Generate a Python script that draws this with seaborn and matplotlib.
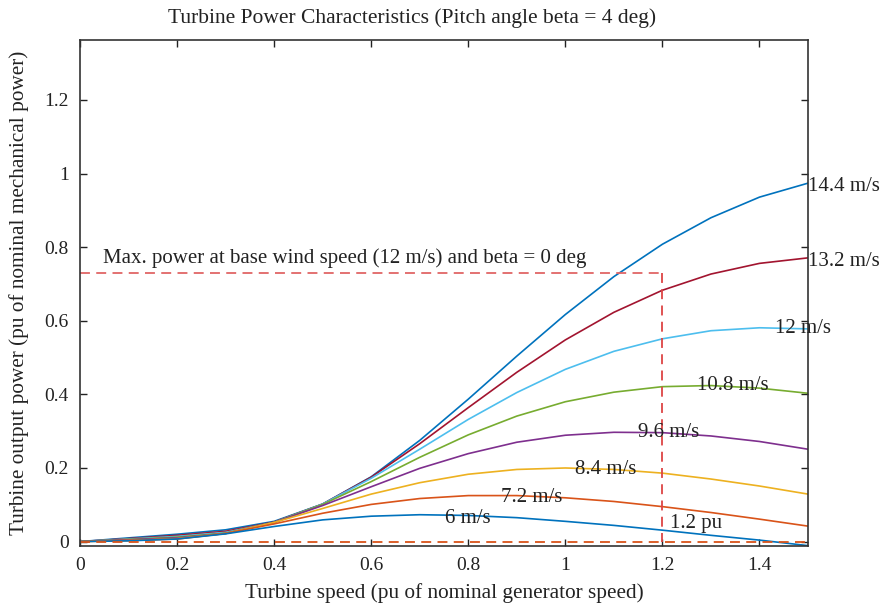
import matplotlib
matplotlib.use("Agg")
import matplotlib.pyplot as plt
import pandas as pd
import seaborn as sns

# ---- data ----
speed = [0.0, 0.1, 0.2, 0.3, 0.4, 0.5, 0.6, 0.7, 0.8, 0.9, 1.0, 1.1, 1.2, 1.3, 1.4, 1.5]
p_14_4 = [0, 0.010, 0.020, 0.032, 0.055, 0.102, 0.176, 0.275, 0.387, 0.504, 0.617, 0.720, 0.808, 0.880, 0.936, 0.974]
p_13_2 = [0, 0.008, 0.017, 0.028, 0.053, 0.102, 0.175, 0.266, 0.364, 0.460, 0.548, 0.623, 0.683, 0.727, 0.756, 0.771]
p_12_0 = [0, 0.007, 0.014, 0.025, 0.052, 0.102, 0.172, 0.251, 0.332, 0.405, 0.468, 0.517, 0.551, 0.573, 0.581, 0.578]
p_10_8 = [0, 0.006, 0.012, 0.023, 0.052, 0.101, 0.163, 0.229, 0.290, 0.341, 0.380, 0.406, 0.421, 0.424, 0.417, 0.403]
p_9_6 = [0, 0.005, 0.010, 0.022, 0.052, 0.098, 0.149, 0.199, 0.239, 0.270, 0.289, 0.297, 0.296, 0.287, 0.272, 0.251]
p_8_4 = [0, 0.003, 0.008, 0.022, 0.052, 0.090, 0.129, 0.160, 0.183, 0.196, 0.200, 0.196, 0.186, 0.170, 0.151, 0.129]
p_7_2 = [0, 0.003, 0.007, 0.022, 0.048, 0.077, 0.101, 0.117, 0.125, 0.125, 0.119, 0.109, 0.095, 0.079, 0.061, 0.042]
p_6_0 = [0, 0.002, 0.007, 0.021, 0.041, 0.059, 0.069, 0.073, 0.071, 0.065, 0.055, 0.044, 0.031, 0.017, 0.004, -0.011]

wind_labels = ["14.4 m/s", "13.2 m/s", "12 m/s", "10.8 m/s", "9.6 m/s", "8.4 m/s", "7.2 m/s", "6 m/s"]
series = [p_14_4, p_13_2, p_12_0, p_10_8, p_9_6, p_8_4, p_7_2, p_6_0]
colors = ["#0072BD", "#A2142F", "#4DBEEE", "#77AC30", "#7E2F8E", "#EDB120", "#D95319", "#0072BD"]

max_power = 0.73          # max power at base wind speed, beta = 0
base_speed = 1.2          # pu
x_max = 1.5

x_ticks = [0, 0.2, 0.4, 0.6, 0.8, 1.0, 1.2, 1.4]
x_tick_labels = ["0", "0.2", "0.4", "0.6", "0.8", "1", "1.2", "1.4"]
y_ticks = [0, 0.2, 0.4, 0.6, 0.8, 1.0, 1.2]
y_tick_labels = ["0", "0.2", "0.4", "0.6", "0.8", "1", "1.2"]

# label anchor positions (data coords)
label_pos = {
    "14.4 m/s": (1.5, 0.966),
    "13.2 m/s": (1.5, 0.760),
    "12 m/s": (1.433, 0.580),
    "10.8 m/s": (1.272, 0.423),
    "9.6 m/s": (1.150, 0.297),
    "8.4 m/s": (1.020, 0.196),
    "7.2 m/s": (0.868, 0.121),
    "6 m/s": (0.753, 0.064),
}

rows = []
for lab, vals in zip(wind_labels, series):
    for s, v in zip(speed, vals):
        rows.append({"speed": s, "power": v, "wind": lab})
df = pd.DataFrame(rows)

sns.set_theme(style="ticks")
plt.rcParams["font.family"] = ["Liberation Serif", "DejaVu Serif"]
plt.rcParams["axes.edgecolor"] = "#333333"

fig = plt.figure(figsize=(8.83, 6.08), dpi=100)
ax = fig.add_axes([80 / 883, 62 / 608, 728 / 883, 506 / 608])

sns.lineplot(data=df, x="speed", y="power", hue="wind", hue_order=wind_labels,
             palette=dict(zip(wind_labels, colors)), legend=False, linewidth=1.2,
             estimator=None, sort=False, ax=ax)

red = "#DD4444"
dash = (0, (5.5, 3.5))
ax.plot([0, base_speed], [max_power, max_power], color="#E06666", lw=1.3, linestyle=dash)
ax.plot([base_speed, base_speed], [max_power, 0], color=red, lw=1.3, linestyle=dash)
ax.plot([0, x_max], [0, 0], color="#D95319", lw=1.3, linestyle=dash)

ax.set_xlim(0, x_max)
ax.set_ylim(-0.012, 1.363)
ax.set_xticks(x_ticks)
ax.set_xticklabels(x_tick_labels)
ax.set_yticks(y_ticks)
ax.set_yticklabels(y_tick_labels)
ax.tick_params(direction="in", top=True, right=True, length=5, width=1,
               labelsize=14, colors="#222222", pad=8)
for sp in ax.spines.values():
    sp.set_visible(True)
    sp.set_linewidth(1.2)
ax.set_xlabel("Turbine speed (pu of nominal generator speed)", fontsize=15.3, color="#222222")
ax.set_ylabel("Turbine output power (pu of nominal mechanical power)", fontsize=15.3, color="#222222")
ax.xaxis.set_label_coords(0.5, (546 - 583) / 506)
ax.yaxis.set_label_coords((29 - 80) / 728, 0.5)

fig.text(412 / 883, 1 - 18 / 608, "Turbine Power Characteristics (Pitch angle beta = 4 deg)",
         ha="center", va="center", fontsize=15.5, color="#222222")

for lab in wind_labels:
    x, y = label_pos[lab]
    ax.text(x, y, lab, ha="left", va="center", fontsize=15, color="#222222", clip_on=False)
ax.text(1.216, 0.048, "1.2 pu", ha="left", va="center", fontsize=15, color="#222222")
ax.text(0.047, 0.77, "Max. power at base wind speed (12 m/s) and beta = 0 deg",
        ha="left", va="center", fontsize=15, color="#222222")

fig.savefig("out.png", dpi=100)
